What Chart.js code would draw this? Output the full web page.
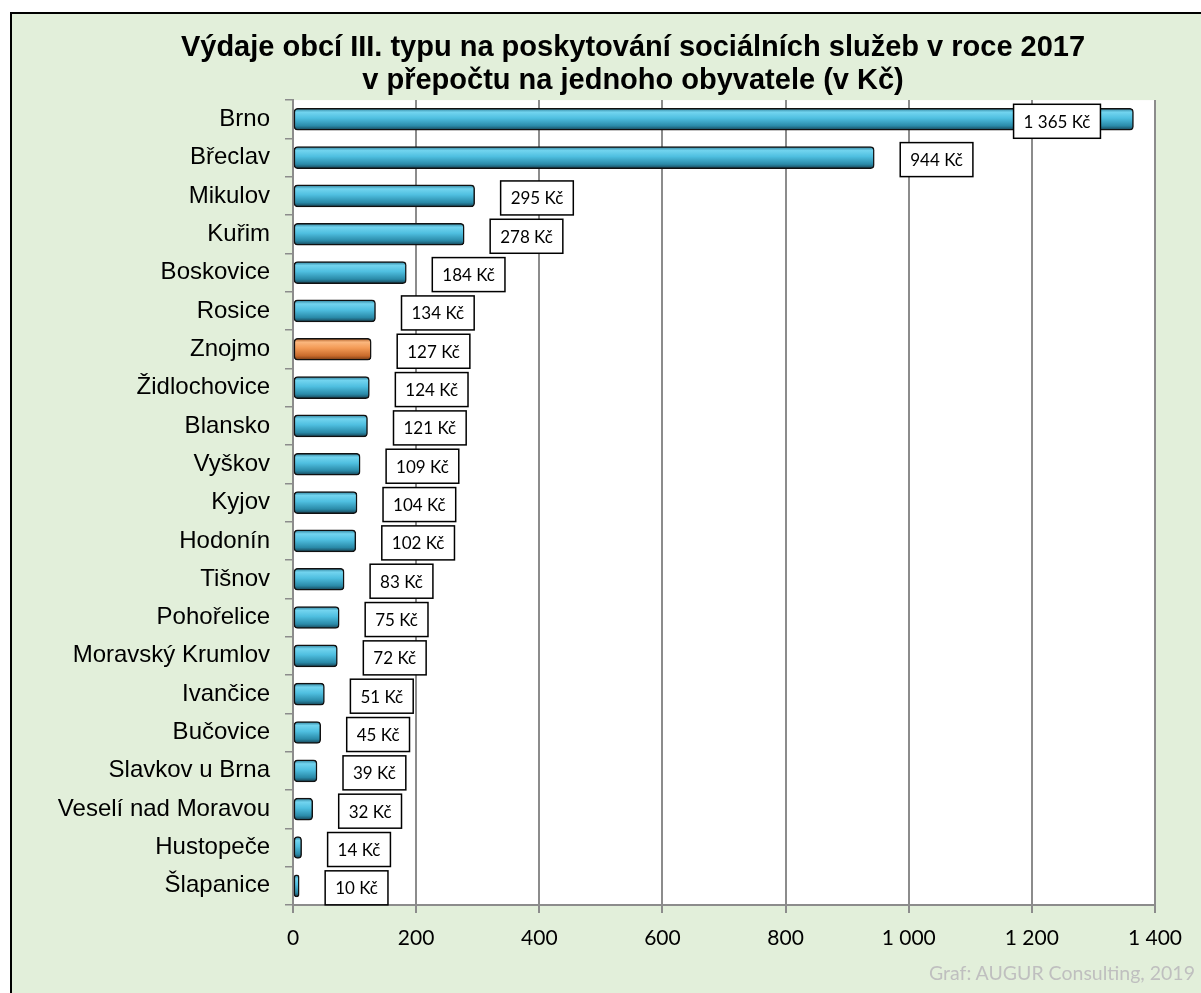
<!DOCTYPE html>
<html>
<head>
<meta charset="utf-8">
<script src="https://cdn.jsdelivr.net/npm/chart.js@4"></script>
<style>
    body { margin: 0; background: #fff; overflow: hidden; width: 1201px; height: 993px; position: relative; }
    #topline { position: absolute; left: 12px; top: -25px; font: bold 22px "Liberation Sans", Arial, sans-serif; color: #000; white-space: nowrap; }
    #frame { position: absolute; left: 10px; top: 12px; width: 1242px; height: 990px; border: 2px solid #000; background: #e2efda; }
    #credit { position: absolute; right: 6px; top: 961px; font: 19.5px Lato, sans-serif; color: #bfbfbf; }
</style>
</head>
<body>
<div id="topline">Výdaje obcí III. typu na obyvatele (Kč)</div>
<div id="frame">
    <canvas id="chart" width="1242" height="985"></canvas>
</div>
<div id="credit">Graf: AUGUR Consulting, 2019</div>
<script>
// data
const towns = ['Brno', 'Břeclav', 'Mikulov', 'Kuřim', 'Boskovice', 'Rosice', 'Znojmo', 'Židlochovice',
    'Blansko', 'Vyškov', 'Kyjov', 'Hodonín', 'Tišnov', 'Pohořelice', 'Moravský Krumlov', 'Ivančice',
    'Bučovice', 'Slavkov u Brna', 'Veselí nad Moravou', 'Hustopeče', 'Šlapanice'];
const spendPerCapita = [1365, 944, 295, 278, 184, 134, 127, 124, 121, 109, 104, 102, 83, 75, 72, 51, 45, 39, 32, 14, 10];
const highlightTown = 'Znojmo';
const xTicks = [0, 200, 400, 600, 800, 1000, 1200, 1400];

const blueStops = ['#2b7c97', '#72d4ef', '#4fbfe0', '#2a8aa8', '#153f50'];
const orangeStops = ['#a9561f', '#fbb77e', '#f39a55', '#c86a2b', '#6e3512'];

function fmt(v) {
    return String(v).replace(/\B(?=(\d{3})+(?!\d))/g, ' ');
}

function barFill(context) {
    const chart = context.chart;
    const stops = towns[context.dataIndex] === highlightTown ? orangeStops : blueStops;
    if (!chart.chartArea || !chart.scales.y) return stops[2];
    const y = chart.scales.y.getPixelForValue(context.dataIndex);
    const g = chart.ctx.createLinearGradient(0, y - 11, 0, y + 11);
    g.addColorStop(0, stops[0]);
    g.addColorStop(0.18, stops[1]);
    g.addColorStop(0.45, stops[2]);
    g.addColorStop(0.8, stops[3]);
    g.addColorStop(1, stops[4]);
    return g;
}

// white back wall behind the bars
const plotBg = {
    id: 'plotBg',
    beforeDraw(chart) {
        const a = chart.chartArea;
        const ctx = chart.ctx;
        ctx.save();
        ctx.fillStyle = '#ffffff';
        ctx.fillRect(a.left, a.top, a.right - a.left, a.bottom - a.top);
        ctx.restore();
    }
};

// boxed value labels next to the bars
const valueBoxes = {
    id: 'valueBoxes',
    afterDatasetsDraw(chart) {
        const ctx = chart.ctx;
        const meta = chart.getDatasetMeta(0);
        ctx.save();
        ctx.font = '17px Lato, "Open Sans", sans-serif';
        ctx.textBaseline = 'middle';
        ctx.textAlign = 'center';
        meta.data.forEach((bar, i) => {
            const text = fmt(spendPerCapita[i]) + ' Kč';
            const w = ctx.measureText(text).width + 20;
            const h = 34;
            let left = bar.x + 26;
            if (left + w > chart.chartArea.right) left = bar.x - 33 - w;
            const top = bar.y - h / 2 + 2;
            ctx.fillStyle = '#ffffff';
            ctx.fillRect(left, top, w, h);
            ctx.lineWidth = 1.5;
            ctx.strokeStyle = '#000000';
            ctx.strokeRect(left, top, w, h);
            ctx.fillStyle = '#000000';
            ctx.fillText(text, left + w / 2, top + h / 2 + 1);
        });
        ctx.restore();
    }
};

new Chart(document.getElementById('chart').getContext('2d'), {
    type: 'bar',
    data: {
        labels: towns,
        datasets: [{
            data: spendPerCapita,
            backgroundColor: barFill,
            borderColor: '#111111',
            borderWidth: 1.5,
            borderRadius: 4,
            borderSkipped: false,
            barThickness: 22
        }]
    },
    options: {
        indexAxis: 'y',
        responsive: false,
        animation: false,
        layout: { padding: 0 },
        plugins: {
            legend: { display: false },
            tooltip: { enabled: false },
            title: {
                display: true,
                text: ['Výdaje obcí III. typu na poskytování sociálních služeb v roce 2017',
                    'v přepočtu na jednoho obyvatele (v Kč)'],
                color: '#000',
                font: { family: '"Liberation Sans", Arial, sans-serif', size: 29, weight: 'bold', lineHeight: 1.14 },
                padding: { top: 17, bottom: 3 }
            }
        },
        scales: {
            x: {
                min: 0,
                max: 1400,
                afterBuildTicks(scale) {
                    scale.ticks = xTicks.map(v => ({ value: v }));
                },
                afterFit(scale) {
                    scale.height = 94;
                },
                grid: { color: '#8c8c8c', lineWidth: 2, tickLength: 8 },
                border: { color: '#8c8c8c', width: 2 },
                ticks: {
                    padding: 13,
                    color: '#000',
                    font: { family: 'Lato, sans-serif', size: 21 },
                    callback: v => fmt(v)
                }
            },
            y: {
                afterFit(scale) {
                    scale.width = 281;
                },
                grid: { drawOnChartArea: false, color: '#8c8c8c', lineWidth: 1.5, tickLength: 8 },
                border: { color: '#8c8c8c', width: 2 },
                ticks: {
                    padding: 15,
                    color: '#000',
                    font: { family: '"Liberation Sans", Arial, sans-serif', size: 24 }
                }
            },
            // empty strip on the right so the title stays centred on the whole frame
            spacer: {
                type: 'linear',
                position: 'right',
                afterFit(scale) {
                    scale.width = 99;
                },
                grid: { display: false },
                border: { display: false },
                ticks: { display: false }
            }
        }
    },
    plugins: [plotBg, valueBoxes]
});
</script>
</body>
</html>
